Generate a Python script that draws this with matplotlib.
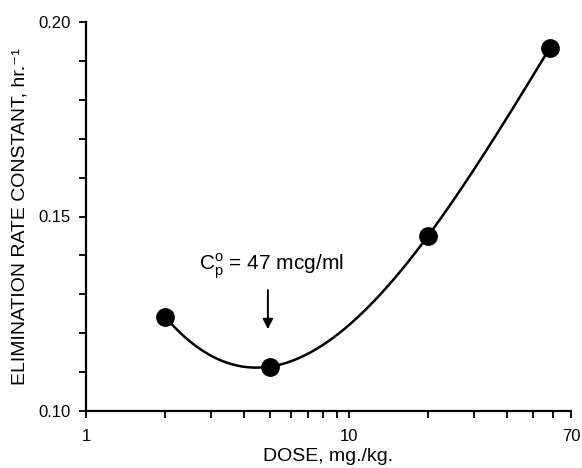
import numpy as np
import matplotlib
matplotlib.use("Agg")
import matplotlib.pyplot as plt
from matplotlib.ticker import FixedLocator, NullFormatter, FixedFormatter

dose = [2.0, 5.0, 20.0, 58.0]
rate = [0.1242, 0.1114, 0.145, 0.1932]
x_ticklabels = ["1", "10", "70"]
x_tickvals = [1, 10, 70]
y_tickvals = [0.10, 0.15, 0.20]
y_ticklabels = ["0.10", "0.15", "0.20"]

plt.rcParams['font.family'] = ['Liberation Sans', 'DejaVu Sans']

fig = plt.figure(figsize=(5.82, 4.68), dpi=100)
ax = fig.add_axes([86/582, 1-411/468, (571-86)/582, (411-22)/468])

# smooth curve: cubic in log10(dose) through the points
u = np.log10(dose)
coef = np.polyfit(u, rate, 3)
uu = np.linspace(u[0], u[-1], 200)
ax.plot(10**uu, np.polyval(coef, uu), color='black', lw=1.8, zorder=2)
ax.plot(dose, rate, 'o', color='black', ms=12.5, zorder=3)

ax.set_xscale('log')
ax.set_xlim(1, 70)
ax.set_ylim(0.10, 0.20)

ax.xaxis.set_major_locator(FixedLocator(x_tickvals))
ax.xaxis.set_major_formatter(FixedFormatter(x_ticklabels))
ax.xaxis.set_minor_locator(FixedLocator([2,3,4,5,6,7,8,9,20,30,40,50,60]))
ax.xaxis.set_minor_formatter(NullFormatter())
ax.yaxis.set_major_locator(FixedLocator(y_tickvals))
ax.yaxis.set_major_formatter(FixedFormatter(y_ticklabels))
ax.yaxis.set_minor_locator(FixedLocator(np.arange(0.11, 0.20, 0.01)))

ax.tick_params(which='both', direction='out', length=5, width=1.3, colors='black', labelsize=12)
ax.tick_params(axis='x', pad=8)
ax.tick_params(axis='y', pad=6)

for s in ['top', 'right']:
    ax.spines[s].set_visible(False)
for s in ['left', 'bottom']:
    ax.spines[s].set_linewidth(1.6)

ax.set_xlabel("DOSE, mg./kg.", fontsize=14, labelpad=3)
ax.set_ylabel("ELIMINATION RATE CONSTANT, hr.\u207b\u00b9", fontsize=14, labelpad=7)

ax.annotate("", xy=(4.92, 0.1203), xytext=(4.92, 0.1318),
            arrowprops=dict(arrowstyle='-|>', color='black', lw=1.4, mutation_scale=15))
ax.text(5.05, 0.1372, r"C$_\mathregular{p}^\mathregular{o}$ = 47 mcg/ml", fontsize=15,
        ha='center', va='center')

fig.savefig("out.png", dpi=100)
